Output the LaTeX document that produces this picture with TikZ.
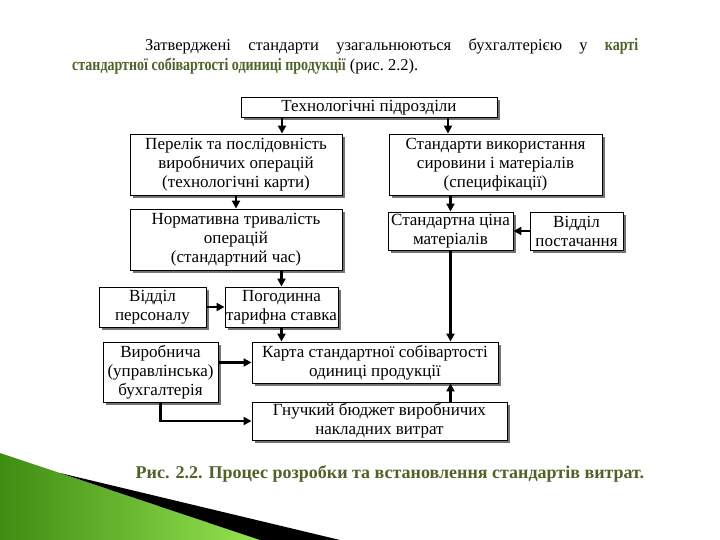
\documentclass[tikz,border=0pt]{standalone}
\usepackage{fontspec}
\setmainfont{Liberation Serif}
\newfontface\narrowbold{Liberation Serif Bold}[FakeStretch=0.8]
\usetikzlibrary{arrows.meta,positioning,calc,shadows}
\definecolor{olivetext}{RGB}{79,98,40}
\definecolor{leafdark}{RGB}{62,140,18}
\definecolor{leaflight}{RGB}{150,228,80}

\begin{document}
\begin{tikzpicture}[x=1pt,y=-1pt,
    box/.style={draw,line width=0.9pt,fill=white,align=center,inner sep=0pt,
        font=\fontsize{17}{19}\selectfont,
        drop shadow={shadow xshift=3pt,shadow yshift=-3pt,fill=black!55,opacity=1}},
    arr/.style={-{Triangle[length=8pt,width=8pt]},line width=2.2pt}]
    \useasboundingbox (0,0) rectangle (720,540);
    % corner decoration
    \shade[left color=leafdark,right color=leaflight] (0,453) -- (260,540) -- (0,540) -- cycle;
    \fill[black] (60,473) -- (340,540) -- (260,540) -- cycle;
    % text above
    \node[anchor=north west,text width=566pt,align=justify,inner sep=0pt,
        font=\fontsize{16.5}{20}\selectfont] (intro) at (72,38)
        {\hspace*{73pt}Затверджені стандарти узагальнюються бухгалтерією у {\fontsize{17.5}{20}\narrowbold\color{olivetext}карті}\linebreak
        {\fontsize{17.5}{20}\narrowbold\color{olivetext}стандартної собівартості одиниці продукції} (рис.~2.2).};
    % boxes
    \node[box,minimum width=256pt,minimum height=20pt] (tech) at (369,107.5) {Технологічні підрозділи};
    \node[box,minimum width=212pt,minimum height=61pt] (perelik) at (236,164.5)
        {Перелік та послідовність\\виробничих операцій\\(технологічні карти)};
    \node[box,minimum width=213pt,minimum height=61pt] (spec) at (495.5,164.5)
        {Стандарти використання\\сировини і матеріалів\\(специфікації)};
    \node[box,minimum width=212pt,minimum height=61pt] (normat) at (236,239.5)
        {Нормативна тривалість\\операцій\\(стандартний час)};
    \node[box,minimum width=125pt,minimum height=38pt] (tsina) at (450.5,231)
        {Стандартна ціна\\матеріалів};
    \node[box,minimum width=93pt,minimum height=38pt] (postach) at (576.5,231)
        {Відділ\\постачання};
    \node[box,minimum width=107pt,minimum height=40pt] (personal) at (152.5,307)
        {Відділ\\персоналу};
    \node[box,minimum width=113pt,minimum height=40pt] (pogod) at (281.5,307)
        {Погодинна\\тарифна ставка};
    \node[box,minimum width=115pt,minimum height=60pt] (vyrob) at (160.5,372)
        {Виробнича\\(управлінська)\\бухгалтерія};
    \node[box,minimum width=246pt,minimum height=41pt] (karta) at (375,362.5)
        {Карта стандартної собівартості\\одиниці продукції};
    \node[box,minimum width=255pt,minimum height=38pt] (budget) at (379.5,421)
        {Гнучкий бюджет виробничих\\накладних витрат};
    % connectors
    \draw[arr] ([xshift=-87pt]tech.south) -- ([xshift=-87pt]tech.south |- perelik.north);
    \draw[arr] ([xshift=79pt]tech.south) -- ([xshift=79pt]tech.south |- spec.north);
    \draw[arr] (perelik.south) -- (normat.north);
    \draw[arr] (normat.south -| pogod.north) -- (pogod.north);
    \draw[arr] (spec.south -| tsina.north) -- (tsina.north);
    \draw[arr] (postach.west) -- (tsina.east);
    \draw[arr] (tsina.south) -- (tsina.south |- karta.north);
    \draw[arr] (personal.east) -- (pogod.west);
    \draw[arr] (pogod.south) -- (pogod.south |- karta.north);
    \draw[arr] (vyrob.east |- karta.west) -- (karta.west);
    \draw[arr] (vyrob.south) |- (budget.west);
    \draw[arr] (budget.north -| tsina.south) -- (karta.south -| tsina.south);
    % caption
    \node[font=\fontsize{18}{21}\selectfont\bfseries,text=olivetext] (caption) at (390,474)
        {Рис. 2.2. Процес розробки та встановлення стандартів витрат.};
\end{tikzpicture}
\end{document}
